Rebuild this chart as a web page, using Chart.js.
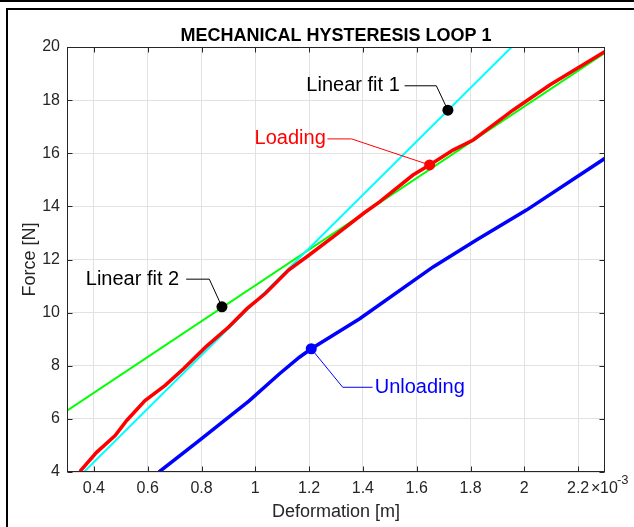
<!DOCTYPE html>
<html>
<head>
<meta charset="utf-8">
<script src="https://cdn.jsdelivr.net/npm/chart.js@4.4.0/dist/chart.umd.min.js"></script>
<style>
  html, body { margin: 0; padding: 0; background: #fff; }
  #wrap { position: relative; width: 634px; height: 527px; overflow: hidden; }
  #myChart { position: absolute; left: 0; top: 0; }
  .topline { position: absolute; left: 0; top: 0; width: 634px; height: 2px; background: #000; }
  .frame { position: absolute; left: 6px; top: 8px; width: 700px; height: 600px; border: 2px solid #000; pointer-events: none; }
</style>
</head>
<body>
<div id="wrap">
  <canvas id="myChart" width="634" height="527"></canvas>
  <div class="topline"></div>
  <div class="frame"></div>
</div>
<script>
// tick labels (x in units of 1e-3 m)
const xTicks = [0.4, 0.6, 0.8, 1, 1.2, 1.4, 1.6, 1.8, 2, 2.2];
const yTicks = [4, 6, 8, 10, 12, 14, 16, 18, 20];

// loading curve
const loadX = [0.348, 0.41, 0.479, 0.522, 0.59, 0.665, 0.733, 0.815, 0.901, 0.969, 1.037, 1.124, 1.199, 1.298, 1.404, 1.462, 1.586, 1.648, 1.735, 1.81, 1.86, 1.959, 2.096, 2.3];
const loadY = [4.02, 4.74, 5.37, 5.94, 6.69, 7.26, 7.89, 8.7, 9.46, 10.15, 10.72, 11.6, 12.16, 12.92, 13.75, 14.17, 15.18, 15.56, 16.12, 16.5, 16.88, 17.63, 18.58, 19.83];

// unloading curve
const unloadX = [0.642, 0.791, 0.977, 1.089, 1.164, 1.208, 1.313, 1.388, 1.661, 1.822, 2.008, 2.3];
const unloadY = [4, 5.18, 6.68, 7.69, 8.32, 8.64, 9.3, 9.77, 11.72, 12.73, 13.86, 15.81];

// linear fits (end points)
const fit1X = [0.363, 1.953];
const fit1Y = [4, 20];
const fit2X = [0.3, 2.3];
const fit2Y = [6.31, 19.78];

// marked points: fit 1, fit 2, loading, unloading
const markX = [1.716, 0.876, 1.648, 1.208];
const markY = [17.62, 10.22, 15.56, 8.64];
const markColors = ["#000000", "#000000", "#ff0000", "#0000ff"];

// text notes with a bent connector to the marked point
const noteText = ["Linear fit 1", "Linear fit 2", "Loading", "Unloading"];
const noteTextX = [1.537, 0.717, 1.262, 1.444];
const noteLineX = [1.555, 0.743, 1.268, 1.436];
const noteElbowX = [1.673, 0.829, 1.358, 1.325];
const noteY = [18.54, 11.26, 16.54, 7.19];
const noteAlign = ["right", "right", "right", "left"];
const noteColors = ["#000000", "#000000", "#ff0000", "#0000ff"];

const FONT = "'Liberation Sans', Arial, Helvetica, sans-serif";
const AXIS_COLOR = "#262626";

const zip = (xs, ys) => xs.map((x, i) => ({ x: x, y: ys[i] }));

const decor = {
  id: "decor",
  afterDatasetsDraw(chart) {
    const ctx = chart.ctx;
    const xs = chart.scales.x;
    const ys = chart.scales.y;
    const a = chart.chartArea;
    ctx.save();

    // connectors and note text
    noteText.forEach((t, i) => {
      const yy = ys.getPixelForValue(noteY[i]);
      ctx.beginPath();
      ctx.strokeStyle = noteColors[i];
      ctx.lineWidth = 1;
      ctx.moveTo(xs.getPixelForValue(noteLineX[i]), yy);
      ctx.lineTo(xs.getPixelForValue(noteElbowX[i]), yy);
      ctx.lineTo(xs.getPixelForValue(markX[i]), ys.getPixelForValue(markY[i]));
      ctx.stroke();
      ctx.fillStyle = noteColors[i];
      ctx.font = "20px " + FONT;
      ctx.textAlign = noteAlign[i];
      ctx.textBaseline = "middle";
      ctx.fillText(t, xs.getPixelForValue(noteTextX[i]), yy);
    });

    // axes box with inward ticks
    ctx.strokeStyle = AXIS_COLOR;
    ctx.lineWidth = 1;
    const L = Math.round(a.left) + 0.5, R = Math.round(a.right) - 0.5;
    const T = Math.round(a.top) + 0.5, B = Math.round(a.bottom) - 0.5;
    ctx.strokeRect(L, T, R - L, B - T);
    ctx.beginPath();
    xTicks.forEach((v) => {
      const p = Math.round(xs.getPixelForValue(v)) + 0.5;
      ctx.moveTo(p, B); ctx.lineTo(p, B - 5);
      ctx.moveTo(p, T); ctx.lineTo(p, T + 5);
    });
    yTicks.forEach((v) => {
      const p = Math.round(ys.getPixelForValue(v)) + 0.5;
      ctx.moveTo(L, p); ctx.lineTo(L + 5, p);
      ctx.moveTo(R, p); ctx.lineTo(R - 5, p);
    });
    ctx.stroke();
    ctx.restore();
  },
  afterDraw(chart) {
    const ctx = chart.ctx;
    const a = chart.chartArea;
    ctx.save();
    // title
    ctx.fillStyle = "#000";
    ctx.font = "bold 18px " + FONT;
    ctx.textAlign = "center";
    ctx.textBaseline = "middle";
    ctx.fillText("MECHANICAL HYSTERESIS LOOP 1", (a.left + a.right) / 2, 36);
    // x exponent: x10^-3
    ctx.fillStyle = AXIS_COLOR;
    ctx.textAlign = "left";
    const ey = a.bottom + 17;
    ctx.font = "16px " + FONT;
    ctx.fillText("\u00d7", a.right - 14, ey);
    ctx.fillText("10", a.right - 5, ey);
    ctx.font = "13px " + FONT;
    ctx.fillText("-3", a.right + 12, ey - 9);
    ctx.restore();
  }
};

new Chart(document.getElementById("myChart"), {
  type: "scatter",
  data: {
    datasets: [
      { label: "Markers", data: zip(markX, markY), pointRadius: 5.5, pointBackgroundColor: markColors, pointBorderColor: markColors, pointBorderWidth: 0, showLine: false, order: 0 },
      { label: "Loading", data: zip(loadX, loadY), borderColor: "#ff0000", borderWidth: 3.5, showLine: true, pointRadius: 0, order: 1 },
      { label: "Unloading", data: zip(unloadX, unloadY), borderColor: "#0000ff", borderWidth: 3.5, showLine: true, pointRadius: 0, order: 1 },
      { label: "Linear fit 1", data: zip(fit1X, fit1Y), borderColor: "#00ffff", borderWidth: 2, showLine: true, pointRadius: 0, order: 2 },
      { label: "Linear fit 2", data: zip(fit2X, fit2Y), borderColor: "#00ff00", borderWidth: 2, showLine: true, pointRadius: 0, order: 2 }
    ]
  },
  options: {
    responsive: false,
    animation: false,
    layout: { padding: { left: 0, top: 47, right: 29, bottom: 0 } },
    plugins: { legend: { display: false }, tooltip: { enabled: false } },
    scales: {
      x: {
        type: "linear",
        min: 0.3,
        max: 2.3,
        afterBuildTicks: (axis) => { axis.ticks = xTicks.map((v) => ({ value: v })); },
        afterFit: (axis) => { axis.height = 55; },
        grid: { color: "#e2e2e2", drawTicks: false },
        border: { display: false },
        ticks: { padding: 7, color: AXIS_COLOR, font: { family: FONT, size: 16 }, maxRotation: 0, autoSkip: false, callback: (v) => String(v) },
        title: { display: true, text: "Deformation [m]", color: AXIS_COLOR, font: { family: FONT, size: 18 }, padding: { top: 0, bottom: 4 } }
      },
      y: {
        type: "linear",
        min: 4,
        max: 20,
        afterBuildTicks: (axis) => { axis.ticks = yTicks.map((v) => ({ value: v })); },
        afterFit: (axis) => { axis.width = 67; },
        grid: { color: "#e2e2e2", drawTicks: false },
        border: { display: false },
        ticks: { padding: 7, color: AXIS_COLOR, font: { family: FONT, size: 16 }, autoSkip: false, callback: (v) => String(v) },
        title: { display: true, text: "Force [N]", color: AXIS_COLOR, font: { family: FONT, size: 18 }, padding: { top: 19, bottom: 0 } }
      }
    }
  },
  plugins: [decor]
});
</script>
</body>
</html>
